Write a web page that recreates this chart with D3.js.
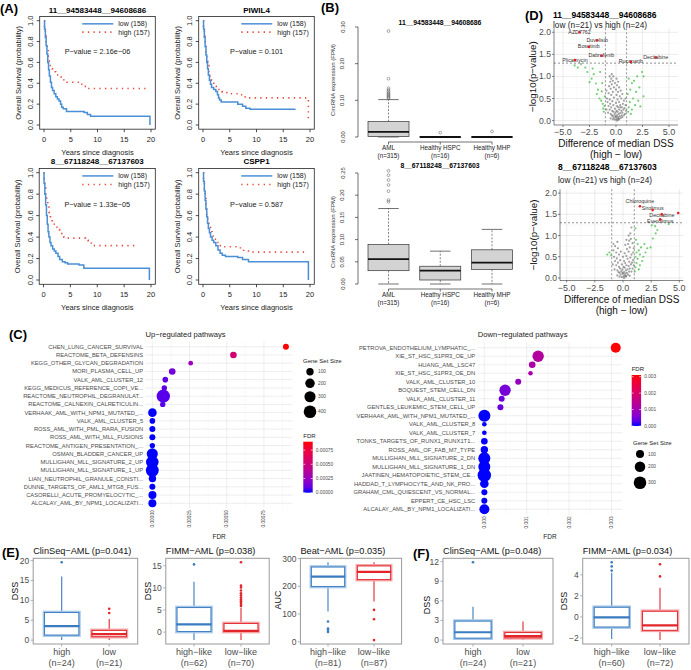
<!DOCTYPE html>
<html><head><meta charset="utf-8">
<script src="https://cdn.jsdelivr.net/npm/d3@7"></script>
<style>body{margin:0;background:#fff;} svg{display:block;}</style>
</head><body><script>
// ================= DATA =================
// Panel A: Kaplan-Meier step points [years, survival]
const km1Low=[[0,1],[0.1,0.92],[0.25,0.84],[0.4,0.76],[0.55,0.68],[0.7,0.6],[0.85,0.53],[1.0,0.47],[1.2,0.41],[1.4,0.36],[1.6,0.33],[1.9,0.3],[2.2,0.27],[2.5,0.25],[2.8,0.23],[3.1,0.2],[3.3,0.17],[3.6,0.155],[4.2,0.13],[7.5,0.12],[8.1,0.1],[8.7,0.085],[19.8,0]];
const km1High=[[0,1],[0.1,0.93],[0.25,0.86],[0.4,0.79],[0.6,0.72],[0.8,0.66],[1.0,0.61],[1.2,0.57],[1.5,0.54],[1.8,0.51],[2.2,0.48],[2.7,0.46],[3.2,0.44],[3.7,0.42],[4.3,0.41],[6.8,0.39],[7.5,0.37],[8.1,0.35],[19.3,0.35]];
const km2Low=[[0,1],[0.1,0.92],[0.25,0.84],[0.4,0.75],[0.55,0.67],[0.7,0.6],[0.85,0.54],[1.0,0.48],[1.2,0.43],[1.4,0.39],[1.6,0.36],[2.0,0.34],[2.4,0.32],[2.7,0.29],[2.9,0.26],[3.1,0.24],[3.4,0.22],[6.5,0.2],[7.4,0.18],[8.0,0.16],[8.8,0.15],[17.3,0.15]];
const km2High=[[0,1],[0.1,0.93],[0.25,0.85],[0.4,0.77],[0.55,0.7],[0.7,0.63],[0.9,0.57],[1.1,0.51],[1.3,0.47],[1.6,0.43],[2.0,0.4],[2.5,0.37],[3.0,0.34],[3.5,0.32],[4.0,0.31],[5.0,0.3],[6.5,0.29],[7.6,0.27],[8.4,0.26],[19.7,0.05]];
const km3Low=[[0,1],[0.1,0.9],[0.25,0.8],[0.4,0.7],[0.55,0.6],[0.7,0.52],[0.85,0.45],[1.0,0.4],[1.2,0.35],[1.4,0.32],[1.7,0.29],[2.0,0.27],[2.3,0.25],[2.7,0.22],[3.0,0.19],[3.5,0.17],[4.0,0.16],[4.5,0.15],[6.6,0.14],[7.5,0.11],[19.7,0]];
const km3High=[[0,1],[0.1,0.93],[0.25,0.86],[0.4,0.8],[0.6,0.74],[0.8,0.68],[1.0,0.63],[1.3,0.58],[1.6,0.54],[2.0,0.5],[2.5,0.47],[3.0,0.45],[3.4,0.42],[3.8,0.4],[4.3,0.39],[7.8,0.37],[8.3,0.35],[8.9,0.32],[17.4,0.32]];
const km4Low=[[0,1],[0.1,0.92],[0.25,0.83],[0.4,0.74],[0.55,0.66],[0.7,0.59],[0.85,0.53],[1.0,0.48],[1.2,0.44],[1.4,0.4],[1.7,0.37],[2.0,0.35],[2.4,0.32],[2.8,0.28],[3.2,0.25],[3.6,0.23],[4.2,0.22],[6.5,0.21],[7.4,0.19],[8.5,0.17],[19.7,0]];
const km4High=[[0,1],[0.1,0.93],[0.25,0.85],[0.4,0.76],[0.55,0.68],[0.7,0.61],[0.9,0.55],[1.1,0.5],[1.4,0.45],[1.7,0.41],[2.1,0.38],[2.6,0.35],[3.0,0.32],[3.5,0.31],[7.0,0.29],[7.6,0.27],[8.5,0.26],[19.6,0.26]];
const kmXTicks=[0,5,10,15,20];
const kmYTicks=[0,0.2,0.4,0.6,0.8,1.0];

// Panel B: boxplot stats [lowWhisker, Q1, median, Q3, upWhisker]
const bGroupsTop=["AML","Healthy HSPC","Healthy MHP"];
const bGroupsBottom=["AML","Heathy HSPC","Healthy MHP"];
const bN=["(n=315)","(n=16)","(n=6)"];
const b1Stats=[[0,0.001,0.014,0.042,0.102],[0,0,0,0,0],[0,0,0,0,0]];
const b1Out=[[0.105,0.108,0.111,0.114,0.117,0.12,0.124,0.128,0.133,0.159,0.289],[0.012],[0.015]];
const b2Stats=[[0,0.03,0.056,0.089,0.17],[0,0.009,0.03,0.04,0.074],[0,0.033,0.048,0.077,0.123]];
const b2Out=[[0.185,0.189,0.209,0.223,0.234,0.245,0.255],[],[]];
const b1Ticks=[0,0.1,0.2,0.3];
const b2Ticks=[0,0.05,0.1,0.15,0.2,0.25];

// Panel C
const upNames=["CHEN_LUNG_CANCER_SURVIVAL","REACTOME_BETA_DEFENSINS","KEGG_OTHER_GLYCAN_DEGRADATION","MORI_PLASMA_CELL_UP","VALK_AML_CLUSTER_12","KEGG_MEDICUS_REFERENCE_COPI_VE...","REACTOME_NEUTROPHIL_DEGRANULAT...","REACTOME_CALNEXIN_CALRETICULIN...","VERHAAK_AML_WITH_NPM1_MUTATED_...","VALK_AML_CLUSTER_5","ROSS_AML_WITH_PML_RARA_FUSION","ROSS_AML_WITH_MLL_FUSIONS","REACTOME_ANTIGEN_PRESENTATION_...","OSMAN_BLADDER_CANCER_UP","MULLIGHAN_MLL_SIGNATURE_2_UP","MULLIGHAN_MLL_SIGNATURE_1_UP","LIAN_NEUTROPHIL_GRANULE_CONSTI...","DUNNE_TARGETS_OF_AML1_MTG8_FUS...","CASORELLI_ACUTE_PROMYELOCYTIC_...","ALCALAY_AML_BY_NPM1_LOCALIZATI..."];
const upFDR=[0.000898,0.000545,0.000258,0.000134,0.0000874,0.0000806,0.000074,0.00007,0.0000008,0.0000006,0.0000005,0.0000005,0.0000004,0,0,0,0.000001,0.0000005,0.000001,0.0000005];
const upSize=[46,68,8,68,33,26,450,26,156,33,46,46,26,300,400,420,100,46,127,127];
const upTicks=[0,0.00025,0.0005,0.00075];
const upSizeLegend=[100,200,300,400];
const downNames=["PETROVA_ENDOTHELIUM_LYMPHATIC_...","XIE_ST_HSC_S1PR3_OE_UP","HUANG_AML_LSC47","XIE_ST_HSC_S1PR3_OE_DN","VALK_AML_CLUSTER_10","BOQUEST_STEM_CELL_DN","VALK_AML_CLUSTER_11","GENTLES_LEUKEMIC_STEM_CELL_UP","VERHAAK_AML_WITH_NPM1_MUTATED_...","VALK_AML_CLUSTER_8","VALK_AML_CLUSTER_7","TONKS_TARGETS_OF_RUNX1_RUNX1T1...","ROSS_AML_OF_FAB_M7_TYPE","MULLIGHAN_MLL_SIGNATURE_2_DN","MULLIGHAN_MLL_SIGNATURE_1_DN","JAATINEN_HEMATOPOIETIC_STEM_CE...","HADDAD_T_LYMPHOCYTE_AND_NK_PRO...","GRAHAM_CML_QUIESCENT_VS_NORMAL...","EPPERT_CE_HSC_LSC","ALCALAY_AML_BY_NPM1_LOCALIZATI..."];
const downFDR=[0.0031,0.00127,0.00113,0.00109,0.0008,0.00049,0.00041,0.00038,0.000002,0.000001,0.000001,0.000001,0.000001,0,0,0,0.000001,0.000002,0.000001,0.000002];
const downSize=[176,239,57,8,41,239,41,41,269,10,10,57,81,269,269,344,121,41,41,176];
const downTicks=[0,0.001,0.002,0.003];
const downSizeLegend=[100,200,300];

// Panel D: volcano points [diff, -log10 p]
const v1Gray=[[-0.1,0.02],[0.05,0.03],[0.15,0.05],[-0.2,0.06],[0.3,0.04],[0.2,0.08],[-0.3,0.1],[0.0,0.08],[0.1,0.12],[-0.15,0.14],[0.35,0.1],[0.45,0.06],[-0.4,0.12],[0.25,0.15],[-0.05,0.18],[0.4,0.17],[0.55,0.12],[-0.5,0.15],[0.6,0.18],[-0.25,0.2],[0.15,0.2],[0.05,0.22],[-0.35,0.22],[0.5,0.22],[0.3,0.25],[-0.6,0.25],[0.7,0.25],[-0.1,0.27],[0.2,0.3],[-0.45,0.3],[0.55,0.3],[0.8,0.28],[-0.7,0.33],[0.1,0.33],[-0.25,0.35],[0.4,0.35],[0.65,0.38],[-0.55,0.38],[0.9,0.35],[-0.8,0.42],[0.0,0.4],[0.3,0.42],[-0.35,0.44],[0.75,0.45],[-0.6,0.48],[0.15,0.48],[0.5,0.5],[-0.85,0.5],[-0.2,0.52],[0.9,0.5],[0.35,0.55],[-0.45,0.58],[0.05,0.58],[0.6,0.6],[-0.7,0.62],[-0.3,0.65],[0.2,0.65],[0.45,0.68],[-0.9,0.68],[-0.5,0.72],[0.0,0.7],[-0.2,0.75],[0.3,0.75],[-0.65,0.78],[-0.4,0.82],[0.1,0.8],[-0.55,0.88],[-0.3,0.9],[-0.45,0.95],[-0.6,1.0],[-0.4,1.05],[0.2,0.88],[-0.1,0.85],[0.05,0.95],[-0.25,1.0],[0.4,0.3],[0.6,0.08],[-0.5,0.05],[0.75,0.12],[-0.75,0.18],[0.85,0.15],[0.95,0.22],[-0.9,0.25],[0.25,0.02],[-0.3,0.03],[0.1,0.0],[-0.05,0.1]];
const v1Green=[[-3.9,1.25],[-3.6,1.2],[-3.3,1.28],[-2.9,1.2],[-2.7,1.1],[-2.2,1.18],[-2.1,1.05],[-1.5,1.1],[-2.5,0.87],[-1.9,0.84],[-1.7,0.7],[-1.35,0.66],[-1.55,0.5],[-1.4,0.45],[-1.25,0.38],[-1.1,0.33],[-1.05,0.55],[-1.2,0.27],[-1.15,0.2],[-2.3,0.95],[-1.8,0.6],[-1.3,0.85],[1.2,0.95],[1.5,0.85],[2.0,1.0],[2.45,1.1],[2.6,1.0],[2.2,0.75],[1.9,0.65],[2.6,0.55],[2.1,0.45],[1.6,0.5],[1.3,0.42],[1.2,0.3],[1.5,0.25],[1.8,0.35],[1.1,0.6],[1.35,0.7],[2.3,0.32],[1.4,0.15],[1.15,0.2],[1.7,0.9]];
const v1Hits=[["AZD7762",-3.44,2.0],["Duvelisib",-1.78,1.82],["Bosutinib",-2.57,1.67],["Dabrafenib",-1.38,1.47],["Plicamycin",-3.87,1.37],["Rucaparib",1.4,1.33],["Decitabine",3.75,1.43]];
const v2Gray=[[-0.1,0.02],[0.05,0.04],[0.15,0.06],[-0.2,0.08],[0.3,0.05],[0.2,0.1],[-0.3,0.12],[0.0,0.1],[0.1,0.14],[-0.15,0.16],[0.35,0.12],[0.45,0.08],[-0.4,0.14],[0.25,0.18],[-0.05,0.2],[0.4,0.2],[0.55,0.15],[-0.5,0.18],[0.6,0.22],[-0.25,0.22],[0.15,0.24],[0.05,0.26],[-0.35,0.26],[0.5,0.28],[0.3,0.3],[-0.6,0.3],[0.7,0.32],[-0.1,0.32],[0.2,0.35],[-0.45,0.36],[0.55,0.38],[0.8,0.36],[-0.7,0.4],[0.1,0.4],[-0.25,0.42],[0.4,0.45],[0.65,0.48],[-0.55,0.46],[0.9,0.42],[-0.8,0.5],[0.0,0.5],[0.3,0.52],[-0.35,0.55],[0.75,0.55],[-0.6,0.6],[0.15,0.58],[0.5,0.62],[-0.85,0.65],[-0.2,0.62],[0.9,0.6],[0.35,0.68],[-0.45,0.7],[0.6,0.72],[-0.7,0.75],[0.45,0.8],[0.2,0.78],[-0.85,0.8],[0.55,0.88],[0.7,0.92],[0.5,1.0],[0.65,1.05],[0.75,1.19],[0.3,0.9],[0.85,0.82],[-0.5,0.85],[0.6,0.05],[-0.5,0.06],[0.75,0.15],[-0.75,0.2],[0.85,0.22],[0.95,0.3],[-0.9,0.32],[0.25,0.03],[-0.3,0.03],[0.1,0.0],[-0.05,0.12],[0.95,0.7]];
const v2Green=[[4.05,1.27],[3.05,1.13],[2.55,1.24],[2.85,1.22],[2.65,0.93],[2.15,0.7],[2.45,0.72],[1.9,0.8],[1.6,0.72],[1.4,0.65],[1.2,0.6],[1.5,0.55],[1.1,0.5],[1.3,0.45],[1.7,0.4],[1.2,0.35],[1.5,0.3],[1.1,0.25],[1.05,0.15],[1.8,0.5],[1.3,0.8],[1.1,1.17],[2.0,0.6],[1.4,0.2],[2.9,1.05],[1.15,0.9],[-1.4,0.55],[-1.2,0.6],[-1.05,0.53]];
const v2Hits=[["Chloroquine",1.5,1.69],["Sirolimus",2.63,1.6],["Decitabine",3.45,1.5],["Everolimus",3.3,1.38],["",4.9,1.53]];
const vXTicks=[-5,-2.5,0,2.5,5];
const vYTicks=[0,0.5,1,1.5,2];

// Panel E/F: boxplot stats [lowWhisker, Q1, median, Q3, upWhisker] and outliers
const e1High=[0,1.1,3.5,7.1,16], e1HighOut=[19.6], e1Low=[0,0.7,1.5,2.6,5.3], e1LowOut=[6.8,7.9];
const e2High=[-1.8,0,1.75,5.7,11.4], e2HighOut=[15.3], e2Low=[-1.8,0,0.3,2.1,5.5], e2LowOut=[5.9,6.2,6.6,7.0,7.4,7.8,8.3,8.8,9.4,10.1,10.5,15.8];
const e3High=[109,197,235,272,287], e3HighOut=[73,48,42,35], e3Low=[145,222,252,276,287], e3LowOut=[115,81,6];
const f1High=[0,0.2,1.2,3.0,5.1], f1HighOut=[11.9], f1Low=[0,0.25,0.6,1.25,2.85], f1LowOut=[];
const f2High=[-2.1,-1.02,-0.05,0.98,4.2], f2HighOut=[4.4,4.8,5.2], f2Low=[-2.2,-1.33,-0.8,0.6,2.77], f2LowOut=[3.85,5.0];

// ================= DRAWING =================
const W=691,H=670;
const FONT="'Liberation Sans', Arial, Helvetica, sans-serif";
const svg=d3.select("body").append("svg").attr("width",W).attr("height",H).style("font-family",FONT);
svg.append("rect").attr("width",W).attr("height",H).attr("fill","#fff");
function text(g,x,y,s,o={}){
  const t=g.append("text").attr("x",x).attr("y",y).text(s)
    .attr("font-size",o.size||8).attr("fill",o.fill||"#000")
    .attr("text-anchor",o.anchor||"start").attr("font-weight",o.weight||"normal")
    .attr("dominant-baseline","central");
  if(o.rot) t.attr("transform",`rotate(${o.rot},${x},${y})`);
  return t;
}
function line(g,x1,y1,x2,y2,stroke,w,dash){
  const l=g.append("line").attr("x1",x1).attr("y1",y1).attr("x2",x2).attr("y2",y2).attr("stroke",stroke).attr("stroke-width",w);
  if(dash) l.attr("stroke-dasharray",dash);
  return l;
}
// panel letters
[["(A)",0,8.5],["(B)",321,7.5],["(C)",9,334],["(D)",525,15],["(E)",2,552],["(F)",413,553]].forEach(d=>text(svg,d[1],d[2],d[0],{size:13,weight:"bold"}));

// ---------- Panel A ----------
const BLUE_KM="#4A8FD6", RED_KM="#E8473D";
const kmCfg=[
 {title:"11__94583448__94608686",p:"P\u2212value = 2.16e\u221206",low:km1Low,high:km1High,xr:[44,151],yr:[125,20.7]},
 {title:"PIWIL4",p:"P\u2212value = 0.101",low:km2Low,high:km2High,xr:[203,310],yr:[125,20.7]},
 {title:"8__67118248__67137603",p:"P\u2212value = 1.33e\u221205",low:km3Low,high:km3High,xr:[43.5,151],yr:[280,172.7]},
 {title:"CSPP1",p:"P\u2212value = 0.587",low:km4Low,high:km4High,xr:[203,310],yr:[280,172.7]}
];
kmCfg.forEach(pn=>{
  const g=svg.append("g");
  const x=d3.scaleLinear().domain([0,20]).range(pn.xr);
  const y=d3.scaleLinear().domain([0,1]).range(pn.yr);
  const L=x(-0.8),R=x(20.8),T=y(1.04),B=y(-0.04);
  const lg=d3.line().x(d=>x(d[0])).y(d=>y(d[1])).curve(d3.curveStepAfter);
  g.append("path").attr("d",lg(pn.high)).attr("fill","none").attr("stroke",RED_KM).attr("stroke-width",1.6).attr("stroke-dasharray","1.3,4.3");
  g.append("path").attr("d",lg(pn.low)).attr("fill","none").attr("stroke",BLUE_KM).attr("stroke-width",1.5);
  g.append("rect").attr("x",L).attr("y",T).attr("width",R-L).attr("height",B-T).attr("fill","none").attr("stroke","#222").attr("stroke-width",0.8);
  kmXTicks.forEach(t=>{line(g,x(t),B,x(t),B+3,"#222",0.8); text(g,x(t),B+10.5,String(t),{size:7.5,anchor:"middle",fill:"#222"});});
  kmYTicks.forEach(t=>{line(g,L-3,y(t),L,y(t),"#222",0.8); text(g,L-9,y(t),t.toFixed(1),{size:7.5,anchor:"middle",rot:-90,fill:"#222"});});
  text(g,L-21.5,(T+B)/2,"Overall Survival (probability)",{size:7.5,anchor:"middle",rot:-90,fill:"#222"});
  text(g,(L+R)/2,B+23,"Years since diagnosis",{size:7.5,anchor:"middle",fill:"#222"});
  text(g,(L+R)/2,T-6.5,pn.title,{size:8,anchor:"middle",weight:"bold"});
  text(g,(L+R)/2,y(0.7),pn.p,{size:7.3,anchor:"middle",fill:"#222"});
  line(g,R-73,y(0.97),R-42,y(0.97),BLUE_KM,1.5);
  line(g,R-73,y(0.89),R-42,y(0.89),RED_KM,1.6,"1.3,4.3");
  text(g,R-37,y(0.97),"low (158)",{size:7,fill:"#222"});
  text(g,R-37,y(0.89),"high (157)",{size:7,fill:"#222"});
});

// ---------- Panel B ----------
const bCfg=[
 {title:"11__94583448__94608686",groups:bGroupsTop,stats:b1Stats,out:b1Out,ticks:b1Ticks,yr:[137,27],dom:[0,0.3],tc:22,lc:80},
 {title:"8__67118248__67137603",groups:bGroupsBottom,stats:b2Stats,out:b2Out,ticks:b2Ticks,yr:[284,173],dom:[0,0.25],tc:165.7,lc:232}
];
bCfg.forEach(pn=>{
  const g=svg.append("g");
  const y=d3.scaleLinear().domain(pn.dom).range(pn.yr);
  const x=d3.scalePoint().domain(d3.range(pn.groups.length)).range([388.5,492]);
  const bw=41;
  const axisY=y(0)+5;
  line(g,358,y(0),358,y(pn.ticks[pn.ticks.length-1]),"#333",0.7);
  pn.ticks.forEach(t=>{line(g,355,y(t),358,y(t),"#333",0.7); text(g,342.5,y(t),t.toFixed(2),{size:5.8,anchor:"middle",rot:-90,fill:"#333"});});
  text(g,333,pn.lc,"CircRNA expression (FPM)",{size:6,anchor:"middle",rot:-90,fill:"#333"});
  text(g,440,pn.tc,pn.title,{size:6.8,anchor:"middle",weight:"bold"});
  line(g,x(0),axisY,x(pn.groups.length-1),axisY,"#333",0.7);
  pn.groups.forEach((gr,i)=>{
    const cx=x(i), s=pn.stats[i];
    line(g,cx,axisY,cx,axisY+2.5,"#333",0.7);
    text(g,cx,axisY+5.5,gr,{size:6.3,anchor:"middle",fill:"#222"});
    text(g,cx,axisY+13.5,bN[i],{size:6.3,anchor:"middle",fill:"#222"});
    line(g,cx,y(s[3]),cx,y(s[4]),"#333",0.6,"2,1.5");
    line(g,cx,y(s[1]),cx,y(s[0]),"#333",0.6,"2,1.5");
    line(g,cx-bw/4,y(s[4]),cx+bw/4,y(s[4]),"#333",0.7);
    line(g,cx-bw/4,y(s[0]),cx+bw/4,y(s[0]),"#333",0.7);
    g.append("rect").attr("x",cx-bw/2).attr("y",y(s[3])).attr("width",bw).attr("height",Math.max(0.01,y(s[1])-y(s[3])))
      .attr("fill","#D3D3D3").attr("stroke","#333").attr("stroke-width",0.7);
    line(g,cx-bw/2,y(s[2]),cx+bw/2,y(s[2]),"#111",1.8);
    pn.out[i].forEach(v=>g.append("circle").attr("cx",cx).attr("cy",y(v)).attr("r",1.4).attr("fill","none").attr("stroke","#555").attr("stroke-width",0.5));
  });
});

// ---------- Panel C ----------
function dotplot(cfg){
  const g=svg.append("g");
  const y=d3.scalePoint().domain(cfg.names).range(cfg.yr);
  const step=y.step();
  const x=d3.scaleLinear().domain([0,cfg.ticks[cfg.ticks.length-1]]).range(cfg.xr);
  const mx=d3.max(cfg.fdr), pad=0.05*mx;
  const L=x(-pad), R=x(mx+pad);
  const T=cfg.yr[0]-0.6*step, B=cfg.yr[1]+0.6*step;
  const r=d3.scaleRadial().domain(cfg.sizeDom).range(cfg.rRange);
  const col=d3.scaleLinear().domain([0,mx]).range(["#0000FF","#FF0000"]).interpolate(d3.interpolateLab);
  for(let i=0;i<cfg.ticks.length;i++){
    const mid=cfg.ticks[i]+(cfg.ticks[1]-cfg.ticks[0])/2;
    if(x(mid)<R) line(g,x(mid),T,x(mid),B,"#F3F3F3",0.5);
    line(g,x(cfg.ticks[i]),T,x(cfg.ticks[i]),B,"#E6E6E6",0.7);
  }
  cfg.names.forEach(n=>line(g,L,y(n),R,y(n),"#E6E6E6",0.7));
  cfg.names.forEach(n=>text(g,L-2.5,y(n),n,{size:5.8,anchor:"end",fill:"#4D4D4D"}));
  cfg.names.forEach((n,i)=>g.append("circle").attr("cx",x(cfg.fdr[i])).attr("cy",y(n)).attr("r",r(cfg.size[i])).attr("fill",col(cfg.fdr[i])));
  cfg.ticks.forEach(t=>text(g,x(t),B+2,cfg.fmt(t),{size:4.8,anchor:"end",rot:-90,fill:"#4D4D4D"}));
  text(g,(L+R)/2,536,"FDR",{size:6.5,anchor:"middle",fill:"#222"});
  text(g,L,334.3,cfg.title,{size:7.6,fill:"#222"});
  const cb=cfg.cbar;
  const gid="grad"+cfg.id;
  const grad=svg.append("defs").append("linearGradient").attr("id",gid).attr("x1",0).attr("y1",1).attr("x2",0).attr("y2",0);
  d3.range(0,1.0001,0.1).forEach(f=>grad.append("stop").attr("offset",f).attr("stop-color",col(f*mx)));
  const cy=d3.scaleLinear().domain([0,mx]).range([cb.y1,cb.y0]);
  text(g,cb.x,cb.y0-6,"FDR",{size:6,fill:"#222"});
  g.append("rect").attr("x",cb.x).attr("y",cb.y0).attr("width",9.4).attr("height",cb.y1-cb.y0).attr("fill",`url(#${gid})`);
  cfg.ticks.forEach(t=>{
    line(g,cb.x,cy(t),cb.x+2,cy(t),"#fff",0.6); line(g,cb.x+7.4,cy(t),cb.x+9.4,cy(t),"#fff",0.6);
    text(g,cb.x+12.5,cy(t),cfg.fmt(t),{size:4.8,fill:"#4D4D4D"});
  });
  const sl=cfg.sleg;
  text(g,sl.x-7,sl.ty,"Gene Set Size",{size:6,fill:"#222"});
  cfg.sizeLegend.forEach((s,i)=>{
    g.append("circle").attr("cx",sl.x).attr("cy",sl.ys[i]).attr("r",r(s)).attr("fill","#000");
    text(g,sl.x+8,sl.ys[i],String(s),{size:4.8,fill:"#4D4D4D"});
  });
}
dotplot({id:"up",names:upNames,fdr:upFDR,size:upSize,ticks:upTicks,fmt:d3.format(".5f"),yr:[346.7,503.3],xr:[152.3,263.9],
  sizeDom:[0,400],rRange:[2.236,6.3],title:"Up\u2212regulated pathways",sizeLegend:upSizeLegend,
  cbar:{x:303.3,y0:441.7,y1:492.7},sleg:{x:310,ty:360.7,ys:[371.7,383.3,396.7,411.7]}});
dotplot({id:"down",names:downNames,fdr:downFDR,size:downSize,ticks:downTicks,fmt:d3.format(".3f"),yr:[347.7,509.3],xr:[484.3,611.5],
  sizeDom:[0,300],rRange:[2.04,6.3],title:"Down\u2212regulated pathways",sizeLegend:downSizeLegend,
  cbar:{x:631.7,y0:375,y1:426},sleg:{x:640,ty:442.7,ys:[454,466.7,482.7]}});

// ---------- Panel D ----------
function volcano(cfg){
  const g=svg.append("g");
  const x=d3.scaleLinear().domain(cfg.xd).range(cfg.xr);
  const y=d3.scaleLinear().domain(cfg.yd).range(cfg.yr);
  const L=cfg.xr[0],R=cfg.xr[1],B=cfg.yr[0],T=cfg.yr[1];
  [-3.75,-1.25,1.25,3.75].forEach(v=>line(g,x(v),T,x(v),B,"#F2F2F2",0.5));
  [0.25,0.75,1.25,1.75].forEach(v=>line(g,L,y(v),R,y(v),"#F2F2F2",0.5));
  vXTicks.forEach(v=>line(g,x(v),T,x(v),B,"#E3E3E3",0.7));
  vYTicks.forEach(v=>line(g,L,y(v),R,y(v),"#E3E3E3",0.7));
  line(g,L,T,L,B,"#333",0.6); line(g,L,B,R,B,"#333",0.6);
  vXTicks.forEach(v=>{line(g,x(v),B,x(v),B+2,"#333",0.6); text(g,x(v),B+7,v===0?"0.0":d3.format(".1f")(v).replace("-","\u2212"),{size:9,anchor:"middle",fill:"#4D4D4D"});});
  vYTicks.forEach(v=>{line(g,L-2,y(v),L,y(v),"#333",0.6); text(g,L-3,y(v),v.toFixed(1),{size:8.6,anchor:"end",fill:"#4D4D4D"});});
  line(g,x(-1),T,x(-1),B,"#444",0.6,"2,2"); line(g,x(1),T,x(1),B,"#444",0.6,"2,2");
  line(g,L,y(-Math.log10(0.05)),R,y(-Math.log10(0.05)),"#444",0.6,"2,2");
  cfg.gray.forEach(d=>g.append("circle").attr("cx",x(d[0])).attr("cy",y(d[1])).attr("r",1.1).attr("fill","#555").attr("fill-opacity",0.55));
  cfg.green.forEach(d=>g.append("circle").attr("cx",x(d[0])).attr("cy",y(d[1])).attr("r",1.1).attr("fill","#5CC65C").attr("fill-opacity",0.85));
  cfg.hits.forEach(d=>{ if(d[0]) text(g,x(d[1]),y(d[2])+(cfg.nudge[d[0]]||-0.5),d[0],{size:5.3,anchor:"middle",fill:"#333"}); });
  cfg.hits.forEach(d=>g.append("circle").attr("cx",x(d[1])).attr("cy",y(d[2])).attr("r",1.3).attr("fill","#E0201E"));
  text(g,cfg.ylx,(T+B)/2,"\u2212log10(p\u2212value)",{size:9.8,anchor:"middle",rot:-90,fill:"#111"});
  text(g,(L+R)/2,B+18.5,"Difference of median DSS",{size:10,anchor:"middle",fill:"#111"});
  text(g,(L+R)/2,B+29.5,"(high \u2212 low)",{size:10,anchor:"middle",fill:"#111"});
  text(g,cfg.tx,cfg.ty,cfg.title,{size:8.5,weight:"bold"});
  text(g,cfg.tx,cfg.sy,"low (n=21) vs high (n=24)",{size:8.3,fill:"#222"});
}
volcano({xd:[-5.85,5.85],xr:[554,678],yd:[-0.1,2.09],yr:[125,28.3],gray:v1Gray,green:v1Green,hits:v1Hits,nudge:{},ylx:533,
  title:"11__94583448__94608686",tx:553,ty:14.5,sy:25});
volcano({xd:[-5.59,5.35],xr:[560,683.3],yd:[-0.06,2.09],yr:[280.5,189.3],gray:v2Gray,green:v2Green,hits:v2Hits,nudge:{Chloroquine:-5,Sirolimus:-2,Decitabine:0.5,Everolimus:2},ylx:534,
  title:"8__67118248__67137603",tx:558,ty:167,sy:179.5});

// ---------- Panel E/F ----------
const BLUE_D="#3B7BBF", BLUE_L="#A6C7E8", RED_D="#E3262B", RED_L="#F4A3A5";
function boxPanel(cfg){
  const g=svg.append("g");
  const all=[...cfg.a,...cfg.aOut,...cfg.b,...cfg.bOut];
  const ext=d3.extent(all), pad=0.05*(ext[1]-ext[0]);
  const T=558.3,B=644;
  const y=d3.scaleLinear().domain([ext[0]-pad,ext[1]+pad]).range([B,T]);
  const u=cfg.c2-cfg.c1, L=cfg.c1-0.6*u, R=cfg.c2+0.6*u;
  const bw=0.75*u;
  g.append("rect").attr("x",L).attr("y",T).attr("width",R-L).attr("height",B-T).attr("fill","#fff").attr("stroke","#9A9A9A").attr("stroke-width",1);
  cfg.ticks.forEach(t=>{line(g,L-2.5,y(t),L,y(t),"#9A9A9A",0.8); text(g,L-4,y(t),String(t).replace("-","\u2212"),{size:8.5,anchor:"end",fill:"#4D4D4D"});});
  text(g,L-cfg.yl,cfg.ylc,cfg.ylab,{size:9,anchor:"middle",rot:-90,fill:"#111"});
  text(g,L,550.8,cfg.title,{size:9.2,fill:"#111"});
  [[cfg.c1,cfg.a,cfg.aOut,BLUE_D,BLUE_L,cfg.lab[0],cfg.n[0]],[cfg.c2,cfg.b,cfg.bOut,RED_D,RED_L,cfg.lab[1],cfg.n[1]]].forEach(([cx,s,out,dk,lt,lab,n])=>{
    line(g,cx,B,cx,B+2.5,"#9A9A9A",0.8);
    text(g,cx,652,lab,{size:9,anchor:"middle",fill:"#4D4D4D"});
    text(g,cx,663,n,{size:9,anchor:"middle",fill:"#4D4D4D"});
    line(g,cx,y(s[3]),cx,y(s[4]),dk,1.1); line(g,cx,y(s[1]),cx,y(s[0]),dk,1.1);
    g.append("rect").attr("x",cx-bw/2).attr("y",y(s[3])).attr("width",bw).attr("height",y(s[1])-y(s[3])).attr("fill","#fff").attr("stroke",lt).attr("stroke-width",2.4);
    g.append("rect").attr("x",cx-bw/2+0.6).attr("y",y(s[3])+0.6).attr("width",bw-1.2).attr("height",Math.max(0.1,y(s[1])-y(s[3])-1.2)).attr("fill","none").attr("stroke",dk).attr("stroke-width",0.9);
    line(g,cx-bw/2,y(s[2]),cx+bw/2,y(s[2]),dk,2.2);
    out.forEach(v=>g.append("circle").attr("cx",cx).attr("cy",y(v)).attr("r",1.3).attr("fill",dk));
  });
}
boxPanel({title:"ClinSeq\u2212AML (p=0.041)",a:e1High,aOut:e1HighOut,b:e1Low,bOut:e1LowOut,c1:61.7,c2:109.2,ticks:[0,5,10,15,20],ylab:"DSS",yl:18,ylc:591,lab:["high","low"],n:["(n=24)","(n=21)"]});
boxPanel({title:"FIMM\u2212AML (p=0.038)",a:e2High,aOut:e2HighOut,b:e2Low,bOut:e2LowOut,c1:194,c2:241,ticks:[0,5,10,15],ylab:"DSS",yl:18,ylc:591,lab:["high\u2212like","low\u2212like"],n:["(n=62)","(n=70)"]});
boxPanel({title:"Beat\u2212AML (p=0.035)",a:e3High,aOut:e3HighOut,b:e3Low,bOut:e3LowOut,c1:328,c2:374,ticks:[0,100,200,300],ylab:"AUC",yl:22,ylc:600,lab:["high\u2212like","low\u2212like"],n:["(n=81)","(n=87)"]});
boxPanel({title:"ClinSeq\u2212AML (p=0.048)",a:f1High,aOut:f1HighOut,b:f1Low,bOut:f1LowOut,c1:473,c2:523,ticks:[0,3,6,9,12],ylab:"DSS",yl:16,ylc:605,lab:["high","low"],n:["(n=24)","(n=21)"]});
boxPanel({title:"FIMM\u2212AML (p=0.034)",a:f2High,aOut:f2HighOut,b:f2Low,bOut:f2LowOut,c1:611.7,c2:660,ticks:[-2,0,2,4],ylab:"DSS",yl:19,ylc:601,lab:["high\u2212like","low\u2212like"],n:["(n=60)","(n=72)"]});
</script></body></html>
